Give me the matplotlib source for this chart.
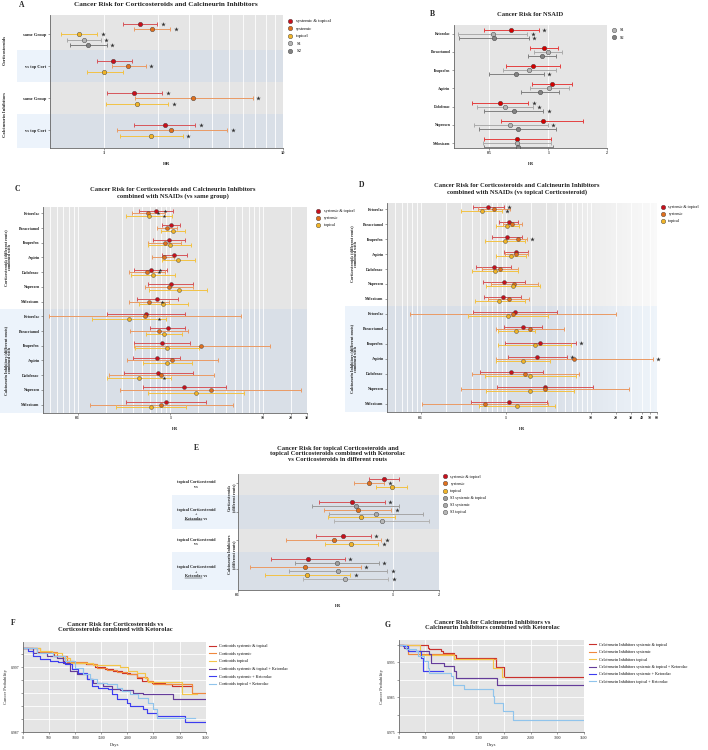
import numpy as np
import matplotlib
matplotlib.use("Agg")
import matplotlib.pyplot as plt
from matplotlib.lines import Line2D
from matplotlib.patches import Rectangle
from matplotlib.ticker import FixedLocator, FixedFormatter, NullFormatter, LogLocator
from matplotlib.transforms import blended_transform_factory, offset_copy

plt.rcParams["font.family"] = ["Liberation Serif", "DejaVu Serif"]

W, H = 708, 750
nan = np.nan

# ---------------- data ----------------
# A: corticosteroids / calcineurin inhibitors
a_groups = ["same Group", "vs top Cort", "same Group", "vs top Cort"]
a_st_hr = [1.59, 1.13, 1.47, 2.18]
a_st_lo = [1.27, 0.91, 1.04, 1.47]
a_st_hi = [1.99, 1.43, 2.12, 3.24]
a_st_star = [1, 0, 1, 1]
a_sy_hr = [1.86, 1.37, 3.15, 2.38]
a_sy_lo = [1.47, 1.11, 1.49, 1.18]
a_sy_hi = [2.34, 1.71, 6.76, 4.87]
a_sy_star = [1, 1, 1, 1]
a_tp_hr = [0.73, 1.00, 1.54, 1.84]
a_tp_lo = [0.577, 0.80, 1.03, 1.23]
a_tp_hi = [0.92, 1.27, 2.29, 2.76]
a_tp_star = [1, 0, 1, 1]
a_s1_hr = [0.77, nan, nan, nan]
a_s1_lo = [0.62, nan, nan, nan]
a_s1_hi = [0.96, nan, nan, nan]
a_s1_star = [1, 0, 0, 0]
a_s2_hr = [0.81, nan, nan, nan]
a_s2_lo = [0.65, nan, nan, nan]
a_s2_hi = [1.035, nan, nan, nan]
a_s2_star = [1, 0, 0, 0]

# B: NSAID
drugs = ["Ketorolac", "Paracetamol", "Ibuprofen", "Aspirin", "Diclofenac", "Naproxen", "Meloxicam"]
b_hr = [0.644, 0.947, 0.836, 1.048, 0.569, 0.936, 0.696]
b_lo = [0.468, 0.804, 0.61, 0.826, 0.41, 0.577, 0.468]
b_hi = [0.897, 1.128, 1.15, 1.324, 0.791, 1.51, 1.035]
b_star = [1, 0, 0, 0, 1, 0, 0]
b_s1_hr = [0.52, 1.0, 0.80, 1.008, 0.603, 0.641, 0.693]
b_s1_lo = [0.344, 0.849, 0.591, 0.804, 0.435, 0.416, 0.464]
b_s1_hi = [0.78, 1.18, 1.094, 1.273, 0.839, 0.996, 1.035]
b_s1_star = [1, 0, 0, 0, 1, 1, 0]
b_s2_hr = [0.526, 0.929, 0.683, 0.911, 0.667, 0.699, 0.704]
b_s2_lo = [0.349, 0.785, 0.496, 0.73, 0.471, 0.441, 0.47]
b_s2_hi = [0.795, 1.094, 0.947, 1.137, 0.943, 1.102, 1.06]
b_s2_star = [1, 0, 1, 0, 1, 0, 0]

# C: combined with NSAIDs (vs same group), 7 corticosteroid rows then 7 calcineurin rows
c_st_hr = [0.707, 1.017, 0.976, 1.095, 0.62, 1.008, 0.719, 0.547, 0.936, 0.807, 0.713, 0.743, 1.41, 0.898]
c_st_lo = [0.464, 0.807, 0.656, 0.807, 0.41, 0.57, 0.435, 0.207, 0.6, 0.403, 0.4, 0.315, 0.504, 0.334]
c_st_hi = [1.06, 1.26, 1.45, 1.51, 0.914, 1.78, 1.2, 1.45, 1.45, 1.64, 1.26, 1.75, 3.97, 2.42]
c_st_mark = [0.877, nan, nan, nan, 0.78, nan, nan, nan, nan, nan, nan, nan, nan, nan]
c_sy_hr = [0.58, 0.921, 0.869, 0.855, 0.566, 0.976, 0.594, 0.53, 0.755, 2.17, 1.05, 0.8, 2.72, 0.794]
c_sy_lo = [0.384, 0.719, 0.58, 0.635, 0.362, 0.538, 0.362, 0.049, 0.368, 0.403, 0.342, 0.217, 0.283, 0.135]
c_sy_hi = [0.877, 1.17, 1.31, 1.086, 0.884, 1.74, 0.976, 5.75, 1.55, 11.8, 3.26, 2.97, 25.8, 4.72]
c_sy_mark = [0.737, nan, nan, nan, 0.762, nan, 0.814, nan, nan, nan, nan, nan, nan, nan]
c_tp_hr = [0.594, 1.06, 0.992, 1.22, 0.646, 1.24, 0.834, 0.356, 0.855, 0.921, 0.928, 0.46, 1.9, 0.625]
c_tp_lo = [0.334, 0.787, 0.58, 0.807, 0.378, 0.594, 0.456, 0.143, 0.547, 0.42, 0.504, 0.208, 0.58, 0.26]
c_tp_hi = [1.03, 1.45, 1.67, 1.84, 1.12, 2.52, 1.55, 0.898, 1.35, 2.02, 1.72, 1.017, 6.3, 1.47]
c_tp_mark = [0.848, nan, nan, nan, nan, nan, nan, 0.762, nan, nan, nan, 0.848, nan, nan]

# D: combined with NSAIDs (vs topical corticosteroid)
d_st_hr = [0.625, 1.085, 1.036, 1.335, 0.723, 0.956, 0.922, 1.276, 1.585, 2.56, 2.36, 1.156, 2.93, 1.085]
d_st_lo = [0.417, 0.835, 0.697, 0.956, 0.444, 0.541, 0.561, 0.413, 0.956, 0.99, 1.065, 0.499, 0.798, 0.391]
d_st_hi = [0.947, 1.41, 1.57, 1.85, 1.166, 1.67, 1.5, 4.05, 2.65, 6.66, 5.22, 2.72, 10.8, 3.04]
d_st_star = [1, 0, 0, 0, 0, 0, 0, 0, 0, 1, 1, 0, 0, 0]
d_sy_hr = [0.723, 1.19, 1.4, 1.335, 0.858, 1.265, 1.085, 1.22, 1.92, nan, 6.31, 1.69, 2.88, 0.576]
d_sy_lo = [0.477, 0.939, 1.0, 0.99, 0.532, 0.672, 0.625, 0.075, 0.769, nan, 0.763, 0.402, 0.298, 0.105]
d_sy_hi = [1.114, 1.54, 1.77, 1.85, 1.41, 2.38, 1.9, 19.9, 4.85, nan, 53.6, 7.22, 28.0, 3.18]
d_sy_star = [0, 0, 1, 0, 0, 0, 0, 0, 0, 0, 1, 0, 0, 0]
d_tp_hr = [0.522, 1.046, 0.982, 1.166, 0.756, 1.22, 0.842, 1.056, 1.335, 2.19, 1.61, 1.95, 1.93, 1.35]
d_tp_lo = [0.298, 0.763, 0.571, 0.769, 0.402, 0.587, 0.436, 0.364, 0.82, 0.82, 0.769, 0.571, 0.582, 0.486]
d_tp_hi = [0.897, 1.45, 1.67, 1.75, 1.41, 2.54, 1.67, 3.12, 2.23, 5.87, 3.35, 6.66, 6.43, 3.77]
d_tp_star = [1, 0, 0, 0, 0, 0, 0, 0, 0, 0, 0, 0, 0, 0]

# E: topical corticosteroid (+ Ketorolac) vs different routes
e_groups = ["topical Corticosteroid\nvs", "topical Corticosteroid\n+\nKetorolac vs",
            "topical Corticosteroid\nvs", "topical Corticosteroid\n+\nKetorolac vs"]
e_st_hr = [0.88, 0.544, 0.481, 0.285]
e_st_lo = [0.702, 0.336, 0.32, 0.163]
e_st_hi = [1.1, 0.889, 0.72, 0.491]
e_st_star = [0, 1, 1, 1]
e_sy_hr = [0.702, 0.594, 0.417, 0.273]
e_sy_lo = [0.563, 0.362, 0.206, 0.12]
e_sy_hi = [0.88, 0.98, 0.842, 0.624]
e_sy_star = [1, 1, 1, 1]
e_tp_hr = [0.99, 0.627, 0.538, 0.282]
e_tp_lo = [0.782, 0.38, 0.364, 0.15]
e_tp_hi = [1.24, 1.03, 0.805, 0.533]
e_tp_star = [0, 0, 1, 1]
e_s3st_hr = [nan, 0.577, nan, 0.436]
e_s3st_lo = [nan, 0.3, nan, 0.235]
e_s3st_hi = [nan, 1.1, nan, 0.813]
e_s3st_star = [0, 0, 0, 1]
e_s3sy_hr = [nan, 0.782, nan, 0.445]
e_s3sy_lo = [nan, 0.39, nan, 0.214]
e_s3sy_hi = [nan, 1.56, nan, 0.92]
e_s3sy_star = [0, 0, 0, 1]
e_s3tp_hr = [nan, 0.855, nan, 0.496]
e_s3tp_lo = [nan, 0.42, nan, 0.263]
e_s3tp_hi = [nan, 1.72, nan, 0.934]
e_s3tp_star = [0, 0, 0, 1]

# F: Kaplan-Meier, corticosteroids (day, probability)
f_labels = ["Corticoids systemic & topical", "Corticoids systemic", "Corticoids topical",
            "Corticoids systemic & topical + Ketorolac", "Corticoids systemic + Ketorolac",
            "Corticoids topical + Ketorolac"]
f_st_days = [0, 270, 590, 780, 970, 1220, 1380, 1580, 1730, 1890, 2050, 2180, 2280, 2470, 2720, 2850, 3230]
f_st_prob = [1.0, 0.99938, 0.99872, 0.99795, 0.99769, 0.99744, 0.99703, 0.99667, 0.99641, 0.99615,
             0.9959, 0.99538, 0.99497, 0.99462, 0.99436, 0.9941, 0.9941]
f_sy_days = [0, 332, 651, 842, 1224, 1416, 1607, 1798, 1990, 2181, 2372, 2500, 3246, 3500]
f_sy_prob = [1.0, 0.99938, 0.99872, 0.99785, 0.99744, 0.99692, 0.99656, 0.99631, 0.996, 0.99549,
             0.99487, 0.99436, 0.99308, 0.99308]
f_tp_days = [0, 332, 555, 746, 906, 1352, 1862, 2022, 2181, 2341, 2404, 3042, 3329]
f_tp_prob = [1.0, 0.99949, 0.99923, 0.99846, 0.99769, 0.99733, 0.99708, 0.99641, 0.99615, 0.99538,
             0.99472, 0.99282, 0.99282]
f_stk_days = [0, 204, 459, 651, 778, 906, 1033, 1224, 1352, 1543, 1703, 1862, 2117, 2309, 2883, 3500]
f_stk_prob = [1.0, 0.99923, 0.99872, 0.99846, 0.99769, 0.99641, 0.9959, 0.99513, 0.99462, 0.9941,
              0.99359, 0.99344, 0.99308, 0.99282, 0.99215, 0.99215]
f_syk_days = [0, 108, 204, 332, 523, 682, 810, 938, 1065, 1224, 1320, 1448, 1639, 1703, 1798, 1990,
              2054, 2309, 2372, 2564, 3106, 3500]
f_syk_prob = [1.0, 0.99949, 0.99872, 0.99821, 0.99795, 0.99785, 0.99744, 0.99667, 0.99615, 0.99513,
              0.9941, 0.99385, 0.99359, 0.99282, 0.99205, 0.99154, 0.99103, 0.99051, 0.99, 0.98949,
              0.98862, 0.98862]
f_tpk_days = [0, 268, 587, 810, 1001, 1161, 1288, 1416, 1607, 1798, 1894, 2054, 2213, 2404, 2500, 2564, 3297]
f_tpk_prob = [1.0, 0.99923, 0.99872, 0.99795, 0.99692, 0.9959, 0.99513, 0.99462, 0.99436, 0.99385,
              0.99333, 0.99282, 0.99231, 0.99154, 0.99051, 0.98923, 0.98923]

# G: Kaplan-Meier, calcineurin inhibitors
g_labels = ["Calcineurin Inhibitors systemic & topical", "Calcineurin Inhibitors systemic",
            "Calcineurin Inhibitors topical", "Calcineurin Inhibitors systemic & topical + Ketorolac",
            "Calcineurin Inhibitors systemic + Ketorolac", "Calcineurin Inhibitors topical + Ketorolac"]
g_st_days = [0, 549, 580, 801, 832, 1053, 1084, 1841, 1999, 3500]
g_st_prob = [1.0, 0.99918, 0.9987, 0.99823, 0.99756, 0.99709, 0.99623, 0.99375, 0.9907, 0.9907]
g_sy_days = [0, 170, 1053, 1841]
g_sy_prob = [1.0, 0.99728, 0.99604, 0.99604]
g_tp_days = [0, 400, 1053, 1778, 1954, 1999]
g_tp_prob = [1.0, 0.997, 0.99585, 0.99347, 0.9907, 0.9907]
g_stk_days = [0, 107, 170, 580, 612, 864, 1053, 1084, 1854, 3500]
g_stk_prob = [1.0, 0.99918, 0.99823, 0.99728, 0.9949, 0.99394, 0.99251, 0.99042, 0.98842, 0.98842]
g_syk_days = [0, 76, 170, 422, 454, 832]
g_syk_prob = [1.0, 0.99966, 0.99823, 0.99632, 0.99251, 0.99251]
g_tpk_days = [0, 139, 328, 359, 485, 549, 580, 990, 1021, 1242, 1778, 1810, 1967, 2156, 3500]
g_tpk_prob = [1.0, 0.9987, 0.99823, 0.9968, 0.99537, 0.99347, 0.99185, 0.99109, 0.98842, 0.98728,
              0.98537, 0.98347, 0.98109, 0.97842, 0.97842]

# ---------------- styles ----------------
RED, RED_L = "#c8101c", "#d6555a"
ORG, ORG_L = "#e0701e", "#ea9a64"
YEL, YEL_L = "#f0b429", "#f2c245"
S1C, S2C = "#b3b3b3", "#828282"
BG = "#e5e5e5"
BAND, BAND_OUT = "#d9dfe7", "#ecf3fb"
TXT = "#222222"

fig = plt.figure(figsize=(W / 100, H / 100), dpi=100)


def px_axes(l, t, r, b):
    return fig.add_axes([l / W, 1 - b / H, (r - l) / W, (b - t) / H])


def ftext(x, y, s, **kw):
    kw.setdefault("color", TXT)
    return fig.text(x / W, 1 - y / H, s, **kw)


def rowtext(ax, xpx, y, s, **kw):
    kw.setdefault("color", TXT)
    tr = blended_transform_factory(fig.transFigure, ax.transData)
    return ax.text(xpx / W, y, s, transform=tr, clip_on=False, **kw)


def stack_positions(series, spacing):
    arr = np.array(series, float)
    ys = np.full(arr.shape, nan)
    for g in range(arr.shape[1]):
        idx = np.where(~np.isnan(arr[:, g]))[0]
        n = len(idx)
        for j, k in enumerate(idx):
            ys[k, g] = g + (j - (n - 1) / 2) * spacing
    return ys


def band(ax, y0, y1, xleft_px, inner=BAND, outer=BAND_OUT):
    ax.axhspan(y0, y1, color=inner, lw=0, zorder=0.1)
    tr = blended_transform_factory(fig.transFigure, ax.transData)
    x0 = xleft_px / W
    ax.add_patch(Rectangle((x0, y0), ax.get_position().x0 - x0, y1 - y0, transform=tr,
                           color=outer, lw=0, clip_on=False, zorder=-1))


def forest(ax, y, hr, lo, hi, mc, lc, ms=3.2, lw=0.7, cap=1.1, stars=None, marks=None):
    y, hr, lo, hi = (np.asarray(v, float) for v in (y, hr, lo, hi))
    ok = ~np.isnan(hr)
    ax.errorbar(hr[ok], y[ok], xerr=[hr[ok] - lo[ok], hi[ok] - hr[ok]], fmt="none", ecolor=lc,
                elinewidth=lw, capsize=cap, capthick=lw, zorder=3)
    ax.plot(hr[ok], y[ok], "o", ms=ms, mfc=mc, mec="#3a3a3a", mew=0.3, ls="none", zorder=4)
    if stars is not None:
        s = np.asarray(stars, bool) & ok
        tr = offset_copy(ax.transData, fig=fig, x=5.5, y=0, units="dots")
        ax.plot(hi[s], y[s], ls="none", marker="*", ms=3.4, color="#333333", mew=0,
                transform=tr, zorder=4, clip_on=False)
    if marks is not None:
        m = np.asarray(marks, float)
        ax.plot(m, y, ls="none", marker="*", ms=2.8, color="#2a2a2a", mew=0, zorder=5)


def style_forest(ax, fs=3.2):
    ax.set_facecolor(BG)
    ax.set_axisbelow(True)
    for sp in ["top", "right"]:
        ax.spines[sp].set_visible(False)
    for sp in ["left", "bottom"]:
        ax.spines[sp].set_color("#666666")
        ax.spines[sp].set_linewidth(0.6)
    ax.tick_params(axis="both", which="major", length=1.5, width=0.4, color="#555555",
                   labelsize=fs, pad=1, labelcolor=TXT)
    ax.tick_params(axis="x", which="minor", length=0)
    for lab in ax.get_xticklabels() + ax.get_yticklabels():
        lab.set_fontweight("bold")


def marker_legend(ax, colors, labels, x, y, fs=3.3, spacing=9.0):
    fpx = fs * 100 / 72
    hs = [Line2D([], [], ls="none", marker="o", ms=3.2, mfc=c, mec="#3a3a3a", mew=0.3) for c in colors]
    ax.legend(hs, labels, loc="upper left", bbox_to_anchor=(x / W, 1 - (y - 0.65 * fpx) / H),
              bbox_transform=fig.transFigure, frameon=False, fontsize=fs, borderpad=0,
              borderaxespad=0, handlelength=0.8, handletextpad=1.0,
              labelspacing=(spacing - 1.25 * fpx) / fpx)


def log_axis(ax, lo, hi, majors, labels, minor=True, fs=3.2):
    ax.set_xscale("log")
    ax.set_xlim(lo, hi)
    ax.xaxis.set_major_locator(FixedLocator(majors))
    ax.xaxis.set_major_formatter(FixedFormatter(labels))
    if minor is True:
        ax.xaxis.set_minor_locator(LogLocator(base=10, subs=np.arange(2, 10)))
    elif minor:
        ax.xaxis.set_minor_locator(FixedLocator(minor))
    else:
        ax.xaxis.set_minor_locator(FixedLocator([]))
    ax.xaxis.set_minor_formatter(NullFormatter())
    ax.grid(True, which="both", axis="x", color="white", lw=0.6)
    ax.set_xlabel("HR", fontsize=fs + 0.3, fontweight="bold", labelpad=5, color=TXT)


TFS = 4.7   # title size
LFS = 5.5   # panel letter size

# ---------------- A ----------------
axA = px_axes(50, 15, 283, 148)
style_forest(axA)
a_hr_all = [a_st_hr, a_sy_hr, a_tp_hr, a_s1_hr, a_s2_hr]
ysA = stack_positions(a_hr_all, 0.165)
axA.set_ylim(3.55, -0.6)
band(axA, 0.5, 1.5, 17)
band(axA, 2.5, 3.55, 17)
forest(axA, ysA[0], a_st_hr, a_st_lo, a_st_hi, RED, RED_L, stars=a_st_star)
forest(axA, ysA[1], a_sy_hr, a_sy_lo, a_sy_hi, ORG, ORG_L, stars=a_sy_star)
forest(axA, ysA[2], a_tp_hr, a_tp_lo, a_tp_hi, YEL, YEL_L, stars=a_tp_star)
forest(axA, ysA[3], a_s1_hr, a_s1_lo, a_s1_hi, S1C, "#a9a9a9", stars=a_s1_star)
forest(axA, ysA[4], a_s2_hr, a_s2_lo, a_s2_hi, S2C, "#7d7d7d", stars=a_s2_star)
log_axis(axA, 0.5, 10, [1, 10], ["1", "10"], minor=[2, 3, 4, 5, 6, 7, 8, 9])
axA.set_yticks(range(4))
axA.set_yticklabels(a_groups)
style_forest(axA)
rowtext(axA, 5, 0.5, "Corticosteroids", rotation=90, ha="center", va="center", fontsize=3.3, fontweight="bold")
rowtext(axA, 5, 2.5, "Calcineurin Inhibitors", rotation=90, ha="center", va="center", fontsize=3.3, fontweight="bold")
marker_legend(axA, [RED, ORG, YEL, S1C, S2C], ["systemic & topical", "systemic", "topical", "S1", "S2"], 288, 22)
ftext(166, 5, "Cancer Risk for Corticosteroids and Calcineurin Inhibitors", ha="center", va="center",
      fontsize=5.2, fontweight="bold")
ftext(22, 5, "A", ha="center", va="center", fontsize=LFS, fontweight="bold")

# ---------------- B ----------------
axB = px_axes(454, 25, 607, 148)
style_forest(axB, fs=2.7)
ysB = stack_positions([b_hr, b_s1_hr, b_s2_hr], 0.22)
axB.set_ylim(6.27, -0.48)
forest(axB, ysB[0], b_hr, b_lo, b_hi, "#d40000", "#e34040", stars=b_star)
forest(axB, ysB[1], b_s1_hr, b_s1_lo, b_s1_hi, S1C, "#ababab", stars=b_s1_star)
forest(axB, ysB[2], b_s2_hr, b_s2_lo, b_s2_hi, S2C, "#808080", stars=b_s2_star)
log_axis(axB, 0.33, 2, [0.5, 1, 2], ["0.5", "1", "2"], minor=False, fs=2.7)
axB.set_yticks(range(7))
axB.set_yticklabels(drugs)
style_forest(axB, fs=2.7)
marker_legend(axB, [S1C, S2C], ["S1", "S2"], 612, 31, fs=3.2, spacing=9)
ftext(530, 14.5, "Cancer Risk for NSAID", ha="center", va="center", fontsize=TFS, fontweight="bold")
ftext(432, 14.5, "B", ha="center", va="center", fontsize=LFS, fontweight="bold")

# ---------------- C ----------------
axC = px_axes(43.3, 206.7, 307, 412.7)
style_forest(axC, fs=2.8)
ysC = stack_positions([c_st_hr, c_sy_hr, c_tp_hr], 0.18)
axC.set_ylim(13.55, -0.45)
band(axC, 6.5, 13.55, 0)
forest(axC, ysC[0], c_st_hr, c_st_lo, c_st_hi, RED, RED_L, ms=2.8, marks=c_st_mark)
forest(axC, ysC[1], c_sy_hr, c_sy_lo, c_sy_hi, ORG, ORG_L, ms=2.8, marks=c_sy_mark)
forest(axC, ysC[2], c_tp_hr, c_tp_lo, c_tp_hi, YEL, YEL_L, ms=2.8, marks=c_tp_mark)
log_axis(axC, 0.0424, 30, [0.1, 1, 10, 20, 30], ["0.1", "1", "10", "20", "30"], fs=2.8)
axC.set_yticks(range(14))
axC.set_yticklabels(drugs + drugs)
style_forest(axC, fs=2.8)
rowtext(axC, 8, 3, "Corticosteroids (different routs)\ncombined with", rotation=90, ha="center",
        va="center", fontsize=3.0, fontweight="bold", linespacing=1.1)
rowtext(axC, 8, 10, "Calcineurin Inhibitors (different routs)\ncombined with", rotation=90, ha="center",
        va="center", fontsize=3.0, fontweight="bold", linespacing=1.1)
marker_legend(axC, [RED, ORG, YEL], ["systemic & topical", "systemic", "topical"], 316, 212, fs=3.0, spacing=8.3)
ftext(173, 193, "Cancer Risk for Corticosteroids and Calcineurin Inhibitors\ncombined with NSAIDs (vs same group)",
      ha="center", va="center", fontsize=TFS, fontweight="bold", linespacing=1.15)
ftext(17, 189, "C", ha="center", va="center", fontsize=LFS, fontweight="bold")

# ---------------- D ----------------
axD = px_axes(387.3, 202.7, 656.7, 412.3)
style_forest(axD, fs=2.8)
ysD = stack_positions([d_st_hr, d_sy_hr, d_tp_hr], 0.15)
axD.set_ylim(13.57, -0.43)
band(axD, 6.5, 13.57, 345)
# fading background towards the right edge
g0 = np.array(matplotlib.colors.to_rgb(BG))
g1 = np.array(matplotlib.colors.to_rgb("#f9f9f9"))
b0 = np.array(matplotlib.colors.to_rgb(BAND))
b1 = np.array(matplotlib.colors.to_rgb("#eef4fa"))
nstep = 40
for i in range(nstep):
    f0 = 0.6 + 0.4 * i / nstep
    f1 = 0.6 + 0.4 * (i + 1) / nstep
    t = (i + 0.5) / nstep
    axD.axhspan(-0.43, 6.5, xmin=f0, xmax=f1 + 0.002, color=g0 + (g1 - g0) * t, lw=0, zorder=0.15)
    axD.axhspan(6.5, 13.57, xmin=f0, xmax=f1 + 0.002, color=b0 + (b1 - b0) * t, lw=0, zorder=0.15)
forest(axD, ysD[0], d_st_hr, d_st_lo, d_st_hi, RED, RED_L, ms=2.8, stars=d_st_star)
forest(axD, ysD[1], d_sy_hr, d_sy_lo, d_sy_hi, ORG, ORG_L, ms=2.8, stars=d_sy_star)
forest(axD, ysD[2], d_tp_hr, d_tp_lo, d_tp_hi, YEL, YEL_L, ms=2.8, stars=d_tp_star)
log_axis(axD, 0.0405, 60, [0.1, 1, 10, 20, 30, 40, 50, 60],
         ["0.1", "1", "10", "20", "30", "40", "50", "60"], fs=2.8)
axD.set_yticks(range(14))
axD.set_yticklabels(drugs + drugs)
style_forest(axD, fs=2.8)
rowtext(axD, 354, 3, "Corticosteroids (different routs)\ncombined with", rotation=90, ha="center",
        va="center", fontsize=3.0, fontweight="bold", linespacing=1.1)
rowtext(axD, 354, 10, "Calcineurin Inhibitors (different routs)\ncombined with", rotation=90, ha="center",
        va="center", fontsize=3.0, fontweight="bold", linespacing=1.1)
marker_legend(axD, [RED, ORG, YEL], ["systemic & topical", "systemic", "topical"], 661, 208, fs=3.0, spacing=8.3)
ftext(517, 189, "Cancer Risk for Corticosteroids and Calcineurin Inhibitors\ncombined with NSAIDs (vs topical Corticosteroid)",
      ha="center", va="center", fontsize=TFS, fontweight="bold", linespacing=1.15)
ftext(362, 185, "D", ha="center", va="center", fontsize=LFS, fontweight="bold")

# ---------------- E ----------------
axE = px_axes(237.7, 474, 439.3, 590)
style_forest(axE, fs=2.8)
e_order = [e_st_hr, e_s3st_hr, e_sy_hr, e_s3sy_hr, e_tp_hr, e_s3tp_hr]
ysE = stack_positions(e_order, 0.134)
axE.set_ylim(3.73, -0.31)
band(axE, 0.42, 1.6, 172)
band(axE, 2.42, 3.73, 172)
S3A, S3B, S3C = "#9c9c9c", "#a9a9a9", "#b6b6b6"
forest(axE, ysE[0], e_st_hr, e_st_lo, e_st_hi, RED, RED_L, stars=e_st_star)
forest(axE, ysE[1], e_s3st_hr, e_s3st_lo, e_s3st_hi, S3A, "#9a9a9a", stars=e_s3st_star)
forest(axE, ysE[2], e_sy_hr, e_sy_lo, e_sy_hi, ORG, ORG_L, stars=e_sy_star)
forest(axE, ysE[3], e_s3sy_hr, e_s3sy_lo, e_s3sy_hi, S3B, "#a6a6a6", stars=e_s3sy_star)
forest(axE, ysE[4], e_tp_hr, e_tp_lo, e_tp_hi, YEL, YEL_L, stars=e_tp_star)
forest(axE, ysE[5], e_s3tp_hr, e_s3tp_lo, e_s3tp_hi, S3C, "#b3b3b3", stars=e_s3tp_star)
log_axis(axE, 0.1, 2, [0.1, 1, 2], ["0.1", "1", "2"], minor=False, fs=2.8)
axE.set_yticks(range(4))
axE.set_yticklabels([""] * 4)
style_forest(axE, fs=2.8)
e_texts = []
for g, lab in enumerate(e_groups):
    e_texts.append(rowtext(axE, 196, g + (0.1 if "+" in lab else 0.05), lab, ha="center", va="center",
                           fontsize=3.0, fontweight="bold", linespacing=1.15))
rowtext(axE, 232, 0.5, "Corticosteroids\n(different routs)", rotation=90, ha="center", va="center",
        fontsize=3.0, fontweight="bold", linespacing=1.1)
rowtext(axE, 232, 2.5, "Calcineurin Inhibitors\n(different routs)", rotation=90, ha="center", va="center",
        fontsize=3.0, fontweight="bold", linespacing=1.1)
marker_legend(axE, [RED, ORG, YEL, S3A, S3B, S3C],
              ["systemic & topical", "systemic", "topical", "S3 systemic & topical", "S3 systemic", "S3 topical"],
              443, 477.5, fs=3.0, spacing=8.3)
ftext(338, 454, "Cancer Risk for topical Corticosteroids and\ntopical Corticosteroids combined with Ketorolac\nvs Corticosteroids in different routs",
      ha="center", va="center", fontsize=TFS, fontweight="bold", linespacing=1.15)
ftext(196, 448, "E", ha="center", va="center", fontsize=LFS, fontweight="bold")

# ---------------- F / G ----------------
KM_COLORS = ["#c9302c", "#f0883e", "#f3c54a", "#643c9a", "#3c3cf0", "#90c4ec"]


def km_axes(ax, series, ylo, yhi, yticks, ylabels):
    ax.set_facecolor(BG)
    ax.set_axisbelow(True)
    for (d, p), c in zip(series, KM_COLORS):
        ax.step(d, p, where="post", color=c, lw=0.85)
    ax.set_xlim(0, 3500)
    ax.set_ylim(ylo, yhi)
    ax.set_xticks(np.arange(0, 3501, 500))
    ax.set_yticks(yticks)
    ax.set_yticklabels(ylabels)
    ax.grid(True, color="white", lw=0.6)
    for sp in ["top", "right"]:
        ax.spines[sp].set_visible(False)
    for sp in ["left", "bottom"]:
        ax.spines[sp].set_color("#666666")
        ax.spines[sp].set_linewidth(0.6)
    ax.tick_params(length=1.5, width=0.4, color="#555555", labelsize=2.8, pad=1, labelcolor=TXT)
    ax.set_xlabel("Days", fontsize=3.3, labelpad=2, color=TXT)
    ax.set_ylabel("Cancer Probability", fontsize=3.3, labelpad=2, color=TXT)


def line_legend(ax, labels, x, y, fs=3.0, spacing=8.8):
    fpx = fs * 100 / 72
    hs = [Line2D([], [], color=c, lw=0.8) for c in KM_COLORS]
    ax.legend(hs, labels, loc="upper left", bbox_to_anchor=(x / W, 1 - (y - 0.65 * fpx) / H),
              bbox_transform=fig.transFigure, frameon=False, fontsize=fs, borderpad=0,
              borderaxespad=0, handlelength=1.6, handletextpad=0.8,
              labelspacing=(spacing - 1.25 * fpx) / fpx)


axF = px_axes(22.7, 641.7, 205.7, 732.3)
f_yt = [0.987, 0.989, 0.991, 0.993, 0.995, 0.997, 0.999]
km_axes(axF, [(f_st_days, f_st_prob), (f_sy_days, f_sy_prob), (f_tp_days, f_tp_prob),
              (f_stk_days, f_stk_prob), (f_syk_days, f_syk_prob), (f_tpk_days, f_tpk_prob)],
        0.987, 1.00094, f_yt, ["0.987", "", "", "", "", "0.997", ""])
line_legend(axF, f_labels, 209, 647)
ftext(115, 627, "Cancer Risk for Corticosteroids vs\nCorticosteroids combined with Ketorolac",
      ha="center", va="center", fontsize=TFS, fontweight="bold", linespacing=1.15)
ftext(13, 623, "F", ha="center", va="center", fontsize=LFS, fontweight="bold")

axG = px_axes(398.7, 640, 583.7, 732.3)
g_yt = [0.975, 0.98, 0.985, 0.99, 0.995, 1.0]
km_axes(axG, [(g_st_days, g_st_prob), (g_sy_days, g_sy_prob), (g_tp_days, g_tp_prob),
              (g_stk_days, g_stk_prob), (g_syk_days, g_syk_prob), (g_tpk_days, g_tpk_prob)],
        0.975, 1.0014, g_yt, ["0.975", "", "0.985", "", "0.995", ""])
line_legend(axG, g_labels, 589, 645.5, spacing=8.6)
ftext(492, 625, "Cancer Risk for Calcineurin Inhibitors vs\nCalcineurin Inhibitors combined with Ketorolac",
      ha="center", va="center", fontsize=TFS, fontweight="bold", linespacing=1.15)
ftext(388, 625, "G", ha="center", va="center", fontsize=LFS, fontweight="bold")

# underline "Ketorolac" in panel E row labels
renderer = fig.canvas.get_renderer()
for t in e_texts:
    if "Ketorolac" not in t.get_text():
        continue
    bb = t.get_window_extent(renderer)
    probe_full = fig.text(0, 0, "Ketorolac vs", fontsize=3.0, fontweight="bold")
    probe_k = fig.text(0, 0, "Ketorolac", fontsize=3.0, fontweight="bold")
    wf = probe_full.get_window_extent(renderer).width
    wk = probe_k.get_window_extent(renderer).width
    probe_full.remove()
    probe_k.remove()
    xc = (bb.x0 + bb.x1) / 2
    x0 = xc - wf / 2
    yline = bb.y0 + 0.6
    fig.add_artist(Line2D([x0 / W, (x0 + wk) / W], [yline / H, yline / H], transform=fig.transFigure,
                          color=TXT, lw=0.35))

fig.savefig("out.png", dpi=100)
